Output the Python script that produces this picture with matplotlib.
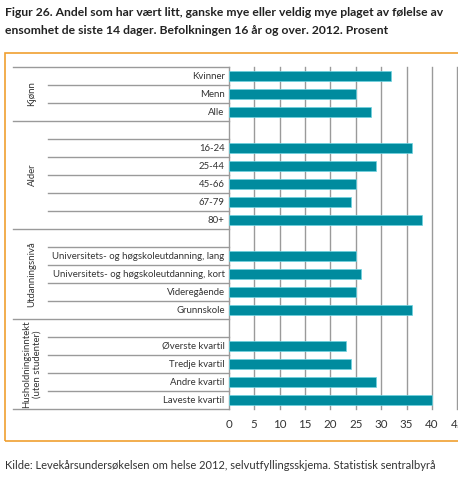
import matplotlib
matplotlib.use("Agg")
import matplotlib.pyplot as plt
from matplotlib.patches import Rectangle
from matplotlib.transforms import blended_transform_factory
import numpy as np

# data
groups = ["Kjønn", "Alder", "Utdanningsnivå", "Husholdningsinntekt\n(uten studenter)"]
kjonn_labels = ["Kvinner", "Menn", "Alle"]
kjonn_values = [32, 25, 28]
alder_labels = ["16-24", "25-44", "45-66", "67-79", "80+"]
alder_values = [36, 29, 25, 24, 38]
utd_labels = ["Universitets- og høgskoleutdanning, lang",
              "Universitets- og høgskoleutdanning, kort",
              "Videregående", "Grunnskole"]
utd_values = [25, 26, 25, 36]
inntekt_labels = ["Øverste kvartil", "Tredje kvartil", "Andre kvartil", "Laveste kvartil"]
inntekt_values = [23, 24, 29, 40]
xticks = [0, 5, 10, 15, 20, 25, 30, 35, 40, 45]

# build rows: each group after the first starts with an empty row
group_data = [(kjonn_labels, kjonn_values), (alder_labels, alder_values),
              (utd_labels, utd_values), (inntekt_labels, inntekt_values)]
labels, values, spans = [], [], []
for i, (lab, val) in enumerate(group_data):
    start = len(labels)
    if i > 0:
        labels.append("")
        values.append(np.nan)
    labels += lab
    values += val
    spans.append((start, len(labels)))

plt.rcParams['font.family'] = ['Lato', 'DejaVu Sans']
W, H = 458, 486
fig = plt.figure(figsize=(W / 100, H / 100), dpi=100)

ax_l, ax_r, ax_t, ax_b = 228.7, 457.3, 67, 409
ax = fig.add_axes([ax_l / W, 1 - ax_b / H, (ax_r - ax_l) / W, (ax_b - ax_t) / H])

teal = "#008b9e"
grid = "#9a9a9a"
y = np.arange(len(labels))
ax.barh(y, values, height=0.58, color=teal, edgecolor="#6fd3e0", linewidth=0.5, zorder=3)
ax.set_ylim(len(labels) - 0.5, -0.5)
ax.set_xlim(0, 45)
ax.set_xticks(xticks)
ax.set_xticklabels([str(t) for t in xticks], fontsize=8.3, color="#333333")
ax.tick_params(axis="x", length=0, pad=7)
ax.set_yticks([])
for s in ["top", "right", "bottom"]:
    ax.spines[s].set_visible(False)
ax.spines["left"].set_color(grid)
ax.spines["left"].set_linewidth(1)
for t in xticks[1:]:
    ax.axvline(t, color=grid, lw=1, zorder=1, clip_on=False)

tr = blended_transform_factory(fig.transFigure, ax.transData)
x_long = 13 / W
x_short = 48 / W
x_axis = ax_l / W

# row labels and separators
for i, lab in enumerate(labels):
    if lab:
        ax.text(x_axis - 4 / W, i, lab, transform=tr, ha="right", va="center",
                fontsize=6.9, color="#333333")
boundaries = np.arange(len(labels) + 1) - 0.5
group_edges = set([spans[0][0] - 0.5] + [e - 0.5 for _, e in spans])
for b in boundaries:
    x0 = x_long if b in group_edges else x_short
    ax.plot([x0, x_axis], [b, b], transform=tr, color=grid, lw=1, clip_on=False)

# group labels
for g, (s, e) in zip(groups, spans):
    ax.text(32 / W, (s + e - 1) / 2, g, transform=tr, rotation=90, ha="center",
            va="center", fontsize=6.9, color="#333333", multialignment="center",
            linespacing=1.15)

# orange frame
fig.patches.append(Rectangle((5 / W, 1 - 441 / H), 1.0, (441 - 53) / H,
                             transform=fig.transFigure, fill=False,
                             edgecolor="#f0a030", lw=1.2))

fig.text(5 / W, 1 - 13 / H,
         "Figur 26. Andel som har vært litt, ganske mye eller veldig mye plaget av følelse av",
         fontsize=8.75, fontweight="bold", color="#222222", va="center")
fig.text(5 / W, 1 - 31 / H,
         "ensomhet de siste 14 dager. Befolkningen 16 år og over. 2012. Prosent",
         fontsize=8.75, fontweight="bold", color="#222222", va="center")
fig.text(5 / W, 1 - 465 / H,
         "Kilde: Levekårsundersøkelsen om helse 2012, selvutfyllingsskjema. Statistisk sentralbyrå",
         fontsize=8.05, color="#333333", va="center")

fig.savefig("out.png", dpi=100)
